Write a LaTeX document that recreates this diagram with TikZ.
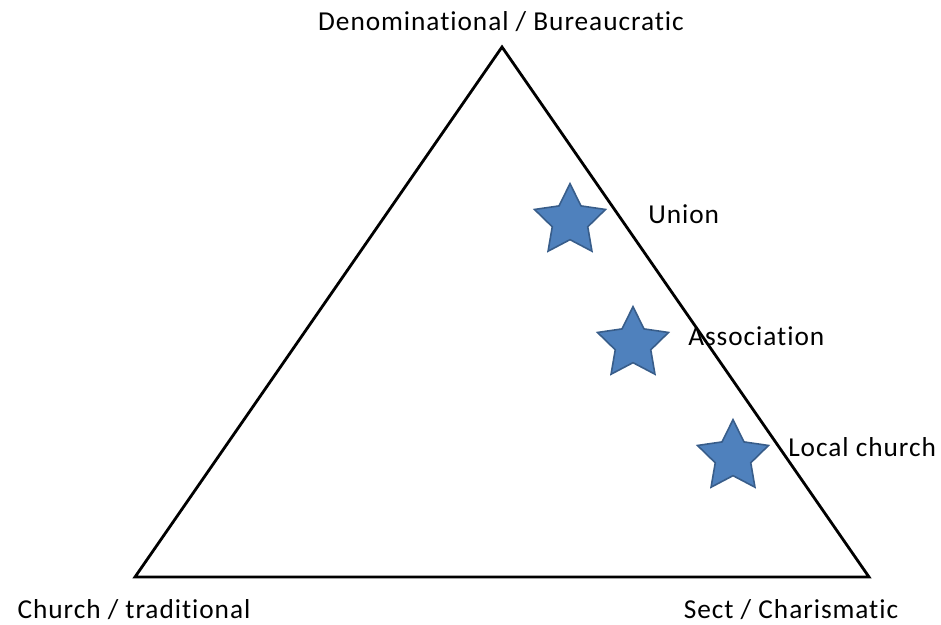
\documentclass[tikz,border=0pt]{standalone}
\usepackage{fontspec}
\setmainfont[LetterSpace=3.5, Ligatures=NoCommon]{Carlito}
\usetikzlibrary{shapes.geometric}
\definecolor{starfill}{HTML}{4F81BD}
\definecolor{starline}{HTML}{385D8A}

\begin{document}
\begin{tikzpicture}[x=0.75pt, y=-0.75pt,
    every node/.style={font=\fontsize{20.5}{24}\selectfont},
    marker/.style={star, star points=5, star point ratio=2.0, minimum size=56pt,
        inner sep=0pt, fill=starfill, draw=starline, line width=1.2pt}]
    \useasboundingbox (0,0) rectangle (941,624);
    % corners of the triangle (pixel units)
    \coordinate (top) at (502,47);
    \coordinate (left) at (135,577);
    \coordinate (right) at (869,577);
    \draw[line width=2.1pt, line join=miter] (top) -- (right) -- (left) -- cycle;
    % corner labels
    \node (toplabel) at (501,22) {Denominational / Bureaucratic};
    \node (leftlabel) at (134,610) {Church / traditional};
    \node (rightlabel) at (791,610) {Sect / Charismatic};
    % stars and their labels
    \node[marker] (union) at (570,221) {};
    \node[marker] (assoc) at (633,344) {};
    \node[marker] (local) at (733,457) {};
    \node[anchor=west, inner sep=0pt] (unionlabel) at (648,214) {Union};
    \node[anchor=west, inner sep=0pt] (assoclabel) at (688,336) {Association};
    \node[anchor=west, inner sep=0pt] (locallabel) at (788,447) {Local church};
\end{tikzpicture}
\end{document}
